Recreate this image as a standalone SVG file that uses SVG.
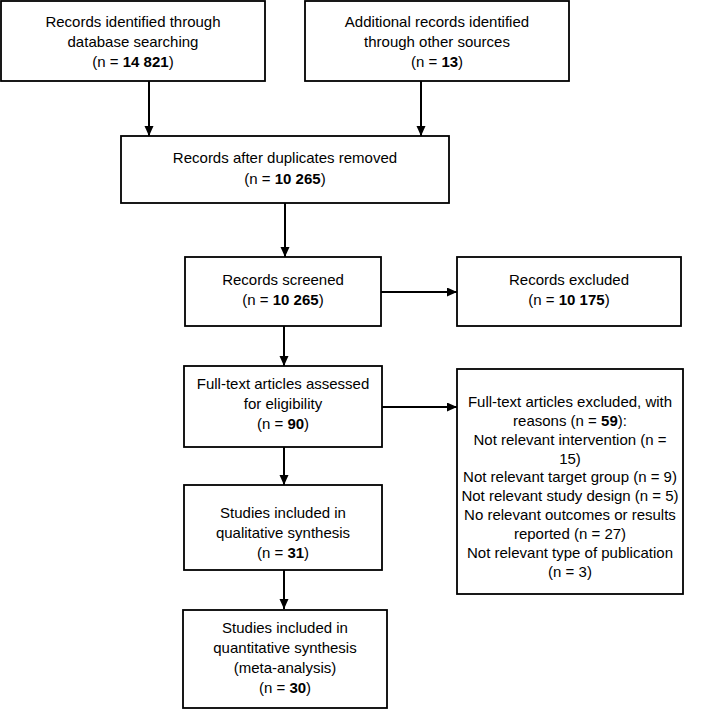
<svg xmlns="http://www.w3.org/2000/svg" width="710" height="719" viewBox="0 0 710 719">
<style>
.box{fill:#fff;stroke:#000;stroke-width:1.8}
.t{font-family:"Liberation Sans",Arial,sans-serif;font-size:15px;fill:#000;text-anchor:middle}
.b{font-weight:bold}
.c{stroke:#000;stroke-width:2;fill:none;marker-end:url(#ah)}
</style>
<defs>
<marker id="ah" markerUnits="userSpaceOnUse" markerWidth="11" markerHeight="10" refX="10" refY="4.5" orient="auto">
<path d="M0,0 L10,4.5 L0,9 z" fill="#000"/>
</marker>
</defs>
<rect width="710" height="719" fill="#fff"/>
<g id="connectors">
<line class="c" x1="149" y1="81" x2="149" y2="136"/>
<line class="c" x1="421" y1="81" x2="421" y2="136"/>
<line class="c" x1="285" y1="203" x2="285" y2="257"/>
<line class="c" x1="381" y1="292" x2="457" y2="292"/>
<line class="c" x1="284" y1="326" x2="284" y2="366"/>
<line class="c" x1="382" y1="407" x2="457" y2="407"/>
<line class="c" x1="284" y1="447" x2="284" y2="485"/>
<line class="c" x1="284" y1="570" x2="284" y2="609"/>
</g>
<g id="n1">
<rect class="box" x="1" y="1" width="264" height="80"/>
<text class="t" x="133" y="27">Records identified through</text>
<text class="t" x="133" y="47">database searching</text>
<text class="t" x="133" y="67">(n = <tspan class="b">14 821</tspan>)</text>
</g>
<g id="n2">
<rect class="box" x="305" y="1" width="264" height="80"/>
<text class="t" x="437" y="27">Additional records identified</text>
<text class="t" x="437" y="47">through other sources</text>
<text class="t" x="437" y="67">(n = <tspan class="b">13</tspan>)</text>
</g>
<g id="n3">
<rect class="box" x="121" y="136" width="328" height="67"/>
<text class="t" x="285" y="163">Records after duplicates removed</text>
<text class="t" x="285" y="184">(n = <tspan class="b">10 265</tspan>)</text>
</g>
<g id="n4">
<rect class="box" x="185" y="257" width="196" height="69"/>
<text class="t" x="283" y="285">Records screened</text>
<text class="t" x="283" y="305">(n = <tspan class="b">10 265</tspan>)</text>
</g>
<g id="n5">
<rect class="box" x="457" y="257" width="224" height="69"/>
<text class="t" x="569" y="285">Records excluded</text>
<text class="t" x="569" y="305">(n = <tspan class="b">10 175</tspan>)</text>
</g>
<g id="n6">
<rect class="box" x="184" y="366" width="198" height="81"/>
<text class="t" x="283" y="389">Full-text articles assessed</text>
<text class="t" x="283" y="409">for eligibility</text>
<text class="t" x="283" y="429">(n = <tspan class="b">90</tspan>)</text>
</g>
<g id="n7">
<rect class="box" x="457" y="369" width="226" height="225"/>
<text class="t" x="570" y="407">Full-text articles excluded, with</text>
<text class="t" x="570" y="426">reasons (n = <tspan class="b">59</tspan>):</text>
<text class="t" x="570" y="445">Not relevant intervention (n =</text>
<text class="t" x="570" y="464">15)</text>
<text class="t" x="570" y="482">Not relevant target group (n = 9)</text>
<text class="t" x="570" y="501">Not relevant study design (n = 5)</text>
<text class="t" x="570" y="520">No relevant outcomes or results</text>
<text class="t" x="570" y="539">reported (n = 27)</text>
<text class="t" x="570" y="558">Not relevant type of publication</text>
<text class="t" x="570" y="577">(n = 3)</text>
</g>
<g id="n8">
<rect class="box" x="184" y="485" width="198" height="85"/>
<text class="t" x="283" y="518">Studies included in</text>
<text class="t" x="283" y="538">qualitative synthesis</text>
<text class="t" x="283" y="558">(n = <tspan class="b">31</tspan>)</text>
</g>
<g id="n9">
<rect class="box" x="183" y="610" width="204" height="98"/>
<text class="t" x="285" y="633">Studies included in</text>
<text class="t" x="285" y="653">quantitative synthesis</text>
<text class="t" x="285" y="673">(meta-analysis)</text>
<text class="t" x="285" y="693">(n = <tspan class="b">30</tspan>)</text>
</g>
</svg>
